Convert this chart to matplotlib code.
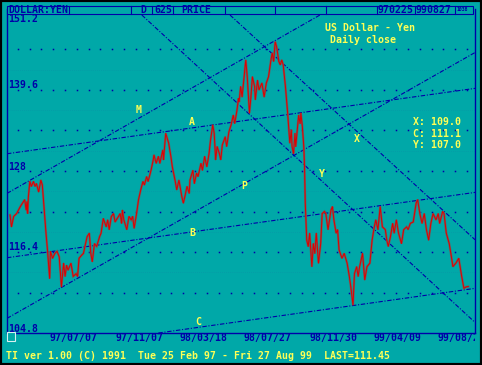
import matplotlib
matplotlib.use("Agg")
import matplotlib.pyplot as plt
import numpy as np
from matplotlib.patches import Rectangle
from matplotlib.lines import Line2D
from matplotlib.transforms import Bbox, TransformedBbox, blended_transform_factory

# daily close of USD/JPY (trading-day index, price)
day_idx = [0, 2, 5, 9, 14, 20, 22, 23, 24, 25, 27, 29, 32, 34, 36, 39, 42, 44, 47, 49,
           51, 54, 55, 58, 61, 64, 67, 70, 73, 75, 77, 79, 83, 86, 90, 92, 94, 98, 100, 102,
           105, 108, 110, 112, 115, 118, 122, 124, 127, 131, 133, 135, 138, 141, 143, 146, 150, 152, 153, 155,
           159, 162, 165, 167, 169, 172, 175, 178, 181, 183, 186, 188, 192, 195, 196, 199, 202, 204, 208, 209,
           212, 216, 219, 221, 225, 227, 230, 234, 236, 238, 241, 244, 245, 249, 251, 254, 256, 260, 262, 265,
           268, 271, 273, 276, 278, 280, 282, 285, 287, 289, 293, 295, 298, 301, 304, 306, 309, 311, 312, 314,
           316, 321, 323, 326, 328, 330, 333, 334, 337, 339, 343, 346, 349, 352, 355, 357, 359, 361, 363, 366,
           368, 370, 372, 375, 378, 379, 381, 383, 384, 386, 388, 389, 393, 395, 396, 398, 400, 401, 402, 404,
           406, 408, 411, 413, 415, 417, 420, 423, 425, 428, 430, 433, 437, 439, 441, 444, 446, 448, 452, 455,
           459, 462, 464, 467, 469, 472, 474, 476, 480, 483, 486, 490, 493, 496, 498, 501, 504, 507, 511, 513,
           515, 518, 521, 523, 526, 529, 533, 536, 540, 542, 545, 549, 553, 555, 558, 561, 564, 567, 570, 573,
           576, 580, 583, 585, 589, 591, 594, 598, 601, 603, 607, 611, 615, 618, 621, 624]
close = [121.7, 120.0, 121.5, 121.9, 122.9, 123.9, 122.4, 123.6, 121.9, 124.3, 126.5, 125.8, 126.5, 125.8, 126.2, 125.0, 126.7, 126.0, 121.9, 119.1,
         116.7, 112.6, 116.5, 115.5, 116.2, 116.5, 115.7, 111.4, 114.8, 112.9, 114.5, 113.8, 114.8, 112.9, 113.3, 112.9, 115.5, 116.0, 116.2, 117.2,
         118.6, 119.1, 116.2, 115.0, 117.6, 117.2, 118.6, 119.1, 121.2, 120.0, 121.0, 119.6, 121.5, 121.9, 120.7, 121.2, 121.9, 120.5, 122.4, 121.0,
         119.6, 121.5, 121.0, 121.5, 119.8, 121.7, 123.9, 125.3, 126.5, 126.0, 127.2, 126.5, 128.1, 129.6, 130.3, 129.1, 130.1, 129.1, 131.0, 129.6,
         133.4, 132.0, 130.1, 128.6, 126.5, 125.3, 126.7, 124.3, 123.4, 124.3, 125.8, 124.8, 126.7, 128.1, 126.2, 127.7, 127.2, 129.1, 128.1, 130.1,
         128.6, 130.5, 132.4, 134.6, 133.4, 129.6, 131.5, 130.5, 129.6, 131.7, 132.9, 131.5, 133.6, 134.6, 136.0, 134.8, 136.7, 138.4, 137.9, 140.1,
         138.6, 143.9, 141.5, 136.3, 138.6, 141.5, 140.1, 138.2, 141.0, 139.6, 140.6, 138.6, 140.6, 141.5, 143.7, 144.9, 143.7, 146.5, 145.8, 143.7,
         143.2, 143.9, 143.2, 140.1, 136.3, 134.8, 132.0, 133.9, 131.5, 130.5, 133.4, 131.5, 136.0, 134.8, 136.3, 134.4, 131.5, 128.6, 123.4, 118.1,
         117.2, 119.1, 114.3, 117.6, 116.2, 119.1, 114.8, 117.6, 121.9, 122.2, 121.9, 119.6, 122.4, 122.9, 121.0, 119.1, 119.6, 116.7, 115.5, 116.2,
         114.8, 112.9, 111.4, 108.8, 113.3, 114.3, 112.9, 114.3, 116.2, 112.4, 114.3, 114.8, 118.1, 120.0, 121.0, 119.6, 122.9, 120.0, 119.6, 118.1,
         117.2, 118.6, 120.5, 119.1, 121.0, 119.1, 117.6, 119.6, 120.0, 119.6, 120.5, 120.7, 123.4, 123.9, 121.9, 120.5, 121.9, 119.6, 118.1, 120.5,
         121.9, 121.0, 121.9, 120.5, 122.2, 121.9, 119.1, 117.6, 115.7, 114.3, 114.8, 115.5, 112.9, 111.2, 111.4, 111.45]

tick_idx = [87, 176, 264, 351, 440, 527, 615]
tick_lbl = ["97/07/07", "97/11/07", "98/03/18", "98/07/27", "98/11/30", "99/04/09", "99/08/27"]
price_lbl = [139.6, 128.0, 116.4, 104.8]
grid_main = [145.4, 139.6, 133.8, 128.0, 122.2, 116.4, 110.6]

# hand-drawn trend lines, each through two (day, price) points
trend_lines = [
    ((0, 125.04), (422, 150.34)),   # M
    ((0, 130.53), (633.5, 139.84)),  # A
    ((0, 107.14), (633.5, 144.99)),  # P
    ((0, 115.64), (633.5, 124.94)),  # B
    ((208.7, 104.9), (633.5, 111.2)),  # C
    ((177.0, 150.58), (633.5, 106.28)),  # Y
    ((299.5, 150.34), (633.5, 118.12)),  # X
]
line_tags = [("M", 175.6, 136.7), ("A", 247.8, 135.0), ("P", 318.6, 125.85),
             ("B", 247.8, 119.1), ("C", 256.0, 106.4), ("X", 472.4, 132.6), ("Y", 424.8, 127.6)]
readout = ["X: 109.0", "C: 111.1", "Y: 107.0"]

TEAL = "#00a8a8"
BLUE = "#0000a8"
YEL = "#ffff55"
RED = "#e00000"
GREY = "#6a6060"

plt.rcParams["font.family"] = "DejaVu Sans Mono"
plt.rcParams["font.weight"] = "bold"
FS = 7.1

W, H = 482, 365
fig = plt.figure(figsize=(W / 100, H / 100), dpi=100, facecolor=TEAL)


def fx(x):
    return x / W


def fy(y):
    return 1 - y / H


ax = fig.add_axes([fx(7), fy(333), fx(475) - fx(7), fy(9) - fy(333)])
ax.set_facecolor(TEAL)
ax.set_xlim(-4.1, 633.1)
ax.set_ylim(104.8, 151.2)
for s in ["left", "bottom", "right"]:
    ax.spines[s].set_color(BLUE)
    ax.spines[s].set_linewidth(1.0)
ax.spines["top"].set_visible(False)
ax.set_xticks([])
ax.set_yticks([])

# dotted grid
dots_x = np.arange(10.5, 630, 16.1)
for v in grid_main:
    ax.plot(dots_x, [v] * len(dots_x), ls="none", marker="s", ms=1.1, mew=0, color=BLUE)
for a, b in zip(grid_main[:-1], grid_main[1:]):
    ax.axhline((a + b) / 2, color="#0a94a6", lw=0.5, ls=(0, (1, 2)))

for p1, p2 in trend_lines:
    ax.axline(p1, p2, color=BLUE, lw=0.8, ls=(0, (4, 1.5, 1, 1.5)))

ax.plot(day_idx, close, color=GREY, lw=1.6, solid_joinstyle="miter")
ax.plot(day_idx, close, color=RED, lw=0.7)

for tag, i, v in line_tags:
    ax.text(i, v, tag, color=YEL, fontsize=FS, ha="center", va="center")

# price labels inside the left edge
for v in price_lbl:
    ax.annotate(f"{v:g}", xy=(0, v), xycoords=("axes fraction", "data"), xytext=(1, 1.5),
                textcoords="offset pixels", color=BLUE, fontsize=FS, va="baseline", ha="left")
fig.text(fx(8), fy(18.5), "151.2", color=BLUE, fontsize=FS, va="center", ha="left")

# date labels under the axis, last one cut by the frame
tr = blended_transform_factory(ax.transData, fig.transFigure)
clip = TransformedBbox(Bbox([[0, 0], [fx(475), 1]]), fig.transFigure)
for i, lbl in zip(tick_idx, tick_lbl):
    t = ax.text(i, fy(337.5), lbl, transform=tr, color=BLUE, fontsize=FS, ha="center", va="center")
    t.set_clip_path(None)
    t.set_clip_box(clip)
    t.set_clip_on(True)

# header bar
fig.add_artist(Rectangle((fx(6.7), fy(13.5)), fx(473.3) - fx(6.7), fy(6) - fy(13.5),
                         transform=fig.transFigure, facecolor=TEAL, edgecolor=BLUE, lw=0.8, zorder=5))
for x in [69, 131, 152.3, 173.3, 225, 275, 325.7, 376.7, 415, 455]:
    fig.add_artist(Line2D([fx(x), fx(x)], [fy(6), fy(13.5)], transform=fig.transFigure,
                          color=BLUE, lw=0.8, zorder=6))
for x, s, size in [(8, "DOLLAR:YEN", FS), (140, "D", FS), (154, "625", FS), (181, "PRICE", FS),
                   (377, "970225", FS), (416, "990827", FS), (457, "1038", 3.5)]:
    fig.text(fx(x), fy(9.9), s, color=BLUE, fontsize=size, va="center", ha="left", zorder=7)

fig.text(fx(325), fy(28), "US Dollar - Yen", color=YEL, fontsize=FS, va="center", ha="left")
fig.text(fx(330), fy(39.5), "Daily close", color=YEL, fontsize=FS, va="center", ha="left")
for k, s in enumerate(readout):
    fig.text(fx(413), fy(122 + 11.7 * k), s, color=YEL, fontsize=FS, va="center", ha="left")

fig.text(fx(6), fy(356), "TI ver 1.00 (C) 1991  Tue 25 Feb 97 - Fri 27 Aug 99  LAST=111.45",
         color=YEL, fontsize=FS, va="center", ha="left")

fig.add_artist(Rectangle((fx(7), fy(341)), fx(15) - fx(7), fy(332) - fy(341), transform=fig.transFigure,
                         facecolor=TEAL, edgecolor="#d8f0f0", lw=0.8, zorder=6))
fig.add_artist(Rectangle((0, 0), 1, 1, transform=fig.transFigure, fill=False,
                         edgecolor="black", lw=3, zorder=10))

fig.savefig("out.png", dpi=100, facecolor=TEAL)
